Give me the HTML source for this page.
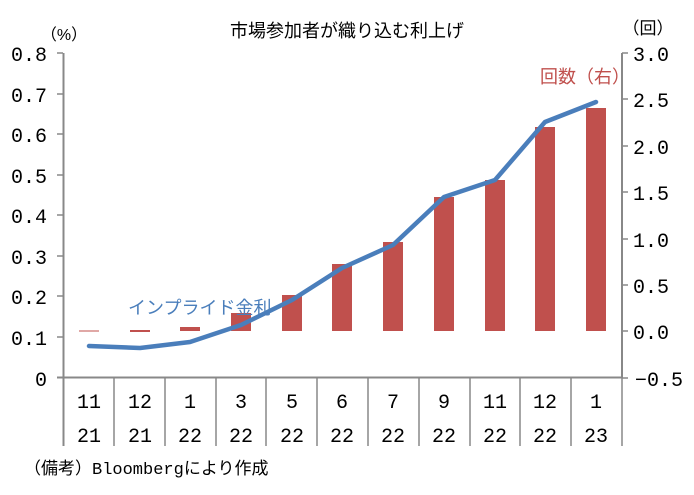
<!DOCTYPE html>
<html><head><meta charset="utf-8"><style>
body{margin:0;background:#fff;}
svg text{font-family:"Liberation Sans","Noto Sans CJK JP",sans-serif;}
svg .m text, svg text.m{font-family:"Liberation Mono","Noto Sans CJK JP",monospace;}
</style></head><body>
<svg width="694" height="490" viewBox="0 0 694 490" xmlns="http://www.w3.org/2000/svg">
<rect width="694" height="490" fill="#fff"/>
<text x="347" y="37" font-size="18" text-anchor="middle" fill="#000">市場参加者が織り込む利上げ</text>
<text x="64" y="40" font-size="16" text-anchor="middle">（%）</text>
<text x="648" y="34" font-size="17" text-anchor="middle">（回）</text>
<g stroke="#888" stroke-width="2" fill="none">
<line x1="63.5" y1="53" x2="63.5" y2="446"/>
<line x1="622" y1="53" x2="622" y2="378"/>
<line x1="57" y1="377.5" x2="622" y2="377.5"/>
</g>
<g stroke="#888" stroke-width="1.5">
<line x1="57" y1="53" x2="63" y2="53"/><line x1="57" y1="94" x2="63" y2="94"/><line x1="57" y1="134" x2="63" y2="134"/><line x1="57" y1="175" x2="63" y2="175"/><line x1="57" y1="215" x2="63" y2="215"/><line x1="57" y1="256" x2="63" y2="256"/><line x1="57" y1="296" x2="63" y2="296"/><line x1="57" y1="337" x2="63" y2="337"/>
<line x1="622" y1="53" x2="628" y2="53"/><line x1="622" y1="99" x2="628" y2="99"/><line x1="622" y1="146" x2="628" y2="146"/><line x1="622" y1="192" x2="628" y2="192"/><line x1="622" y1="239" x2="628" y2="239"/><line x1="622" y1="285" x2="628" y2="285"/><line x1="622" y1="331" x2="628" y2="331"/><line x1="622" y1="378" x2="628" y2="378"/>
<line x1="114" y1="378" x2="114" y2="446"/><line x1="165" y1="378" x2="165" y2="446"/><line x1="216" y1="378" x2="216" y2="446"/><line x1="266" y1="378" x2="266" y2="446"/><line x1="317" y1="378" x2="317" y2="446"/><line x1="368" y1="378" x2="368" y2="446"/><line x1="419" y1="378" x2="419" y2="446"/><line x1="470" y1="378" x2="470" y2="446"/><line x1="520" y1="378" x2="520" y2="446"/><line x1="571" y1="378" x2="571" y2="446"/><line x1="622" y1="378" x2="622" y2="446"/>
</g>
<g font-size="20" text-anchor="end" class="m">
<text x="47" y="61">0.8</text><text x="47" y="102">0.7</text><text x="47" y="142">0.6</text><text x="47" y="183">0.5</text><text x="47" y="223">0.4</text><text x="47" y="264">0.3</text><text x="47" y="304">0.2</text><text x="47" y="345">0.1</text><text x="47" y="386">0</text>
</g>
<g font-size="20" text-anchor="start" class="m">
<text x="633" y="61">3.0</text><text x="633" y="107">2.5</text><text x="633" y="154">2.0</text><text x="633" y="200">1.5</text><text x="633" y="247">1.0</text><text x="633" y="293">0.5</text><text x="633" y="339">0.0</text><text x="635" y="386">−0.5</text>
</g>
<g fill="#c0504d">
<rect x="79" y="330.5" width="20" height="1"/>
<rect x="130" y="330" width="20" height="2"/>
<rect x="180" y="327" width="20" height="4"/>
<rect x="231" y="313" width="20" height="18"/>
<rect x="282" y="295" width="20" height="36"/>
<rect x="332" y="264" width="20" height="67"/>
<rect x="383" y="242" width="20" height="89"/>
<rect x="434" y="197" width="20" height="134"/>
<rect x="485" y="180" width="20" height="151"/>
<rect x="535" y="127" width="20" height="204"/>
<rect x="586" y="108" width="20" height="223"/>
</g>
<polyline fill="none" stroke="#4a7ebb" stroke-width="4.5" stroke-linejoin="round" stroke-linecap="round" points="89,346 140,348 190,342 241,325 292,300 342,268 393,245 444,197 495,180 545,122 596,102"/>
<text x="128" y="314" font-size="18" fill="#4a7ebb">インプライド金利</text>
<text x="540" y="83" font-size="18" fill="#c0504d">回数（右）</text>
<g font-size="20" text-anchor="middle" class="m">
<text x="89" y="408">11</text><text x="140" y="408">12</text><text x="190" y="408">1</text><text x="241" y="408">3</text><text x="292" y="408">5</text><text x="342" y="408">6</text><text x="393" y="408">7</text><text x="444" y="408">9</text><text x="495" y="408">11</text><text x="545" y="408">12</text><text x="596" y="408">1</text>
<text x="89" y="442">21</text><text x="140" y="442">21</text><text x="190" y="442">22</text><text x="241" y="442">22</text><text x="292" y="442">22</text><text x="342" y="442">22</text><text x="393" y="442">22</text><text x="444" y="442">22</text><text x="495" y="442">22</text><text x="545" y="442">22</text><text x="596" y="442">23</text>
</g>
<text x="24" y="474" font-size="17" class="m">（備考）Bloombergにより作成</text>
</svg>
</body></html>
